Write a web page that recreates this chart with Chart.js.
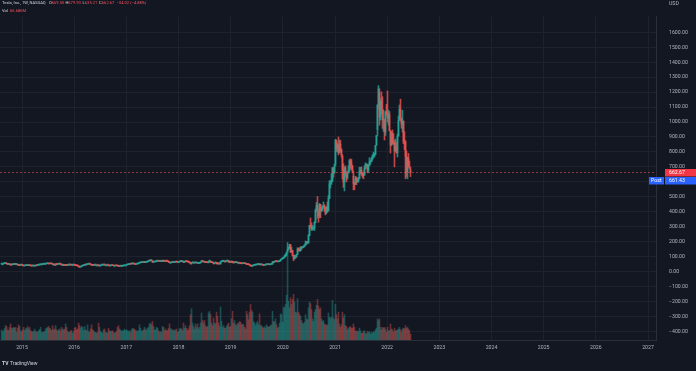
<!DOCTYPE html>
<html lang="en">
<head>
<meta charset="UTF-8" />
<title>Tesla, Inc. 1W NASDAQ</title>
<style>
  html, body { margin: 0; padding: 0; background: #131722; }
  #wrap { position: relative; width: 696px; height: 371px; }
</style>
<script src="https://cdn.jsdelivr.net/npm/chart.js@4"></script>
</head>
<body>
<div id="wrap"><canvas id="chart" width="696" height="371"></canvas></div>
<script>
// weekly bars, first week Mon 11 Aug 2014, last week Mon 13 Jun 2022 (prices in USD, 2020-split adjusted)
const lastWeek = Date.UTC(2022, 5, 13);
const firstOpen = 51.0;

const closes = [
  // 2014
  51.8, 51.8, 53.8, 55.4, 55.8, 51.8, 49.2, 51.0, 47.2, 45.4, 47.0, 48.4, 48.2, 51.6, 48.4, 48.8, 44.6, 41.6, 43.8, 45.4, 43.8,
  // 2015
  41.2, 38.4, 40.2, 40.6, 43.4, 40.6, 43.4, 40.6, 38.6, 38.2, 39.0, 38.0, 42.0, 42.0, 41.4, 43.6, 45.2, 47.2, 49.6, 49.6,
  50.0, 49.8, 50.0, 52.4, 53.4, 56.0, 51.8, 54.8, 53.0, 53.2, 48.4, 48.4, 46.0, 49.6, 48.2, 50.0, 52.4, 51.2, 49.4, 44.0,
  45.4, 42.2, 41.2, 46.4, 41.6, 44.0, 46.2, 46.0, 43.6, 46.0, 46.0, 48.0,
  // 2016
  42.2, 40.8, 40.4, 38.2, 32.4, 30.2, 33.2, 38.0, 40.2, 41.0, 46.4, 45.4, 47.4, 50.0, 50.8, 50.6, 48.0, 42.2, 41.4, 44.0,
  44.8, 43.6, 43.6, 43.0, 38.6, 43.2, 43.2, 44.0, 44.4, 46.8, 45.0, 45.0, 45.0, 44.0, 39.4, 38.8, 41.0, 42.6, 40.8, 39.2,
  39.2, 40.0, 39.6, 38.0, 36.0, 37.0, 39.2, 36.2, 38.4, 40.4, 42.8, 42.8,
  // 2017
  45.8, 47.4, 48.8, 50.4, 50.2, 53.8, 54.6, 51.4, 50.2, 48.6, 52.2, 52.6, 55.6, 60.4, 60.8, 61.0, 62.8, 61.6, 64.8, 62.0,
  65.0, 67.8, 71.4, 74.2, 76.6, 72.2, 62.6, 65.4, 65.6, 67.0, 71.2, 71.4, 69.4, 69.6, 71.0, 68.6, 75.8, 70.2, 68.2, 71.2,
  71.0, 69.0, 64.0, 60.4, 60.4, 63.0, 63.2, 61.2, 63.0, 68.8, 65.0, 62.2,
  // 2018
  63.4, 67.2, 70.2, 68.4, 68.6, 62.0, 67.0, 70.0, 67.0, 65.4, 64.2, 60.2, 53.2, 59.8, 60.0, 58.0, 58.8, 59.0, 60.2, 55.2,
  55.6, 58.4, 63.6, 71.6, 66.6, 68.4, 61.6, 63.6, 62.6, 59.4, 68.2, 70.4, 61.0, 64.4, 60.2, 52.6, 59.0, 59.8, 52.8, 52.2,
  51.8, 52.0, 66.0, 69.2, 70.0, 70.8, 65.0, 70.0, 71.6, 73.2, 63.8, 66.6, 63.6,
  // 2019
  69.4, 60.4, 60.2, 62.4, 61.2, 61.4, 58.8, 58.8, 56.8, 55.0, 52.8, 55.8, 54.8, 53.4, 54.6, 47.0, 51.2, 47.8, 42.2, 38.0,
  37.0, 41.0, 42.8, 44.2, 44.6, 46.8, 49.0, 51.6, 45.6, 46.8, 47.0, 44.0, 42.2, 45.0, 45.8, 49.0, 48.0, 48.4, 46.2, 49.4,
  51.2, 65.6, 62.8, 67.4, 70.4, 66.6, 65.8, 67.2, 71.6, 81.0, 86.0, 88.6,
  // 2020
  95.6, 102.0, 113.0, 130.0, 149.6, 160.0, 180.2, 133.6, 140.8, 109.2, 85.4, 102.8, 96.0, 114.6, 150.6, 145.2, 140.2, 163.8, 159.8, 163.2,
  167.0, 177.0, 187.0, 200.0, 191.8, 241.6, 308.8, 300.0, 283.4, 286.2, 290.5, 330.0, 409.8, 442.7, 418.3, 372.7, 449.4, 407.3, 415.1, 434.0,
  439.7, 420.6, 388.0, 430.0, 408.1, 489.6, 585.8, 599.0, 610.0, 695.0, 661.8, 705.7,
  // 2021
  880.0, 826.2, 846.6, 793.5, 852.2, 816.1, 781.3, 675.5, 597.9, 693.7, 654.9, 618.7, 661.8, 677.0, 739.8, 729.4, 709.4, 672.4, 589.7, 580.9,
  625.2, 599.1, 609.9, 623.3, 671.9, 678.9, 656.9, 644.2, 643.4, 687.2, 699.1, 717.2, 680.3, 711.9, 733.6, 736.3, 759.5, 774.4, 775.2, 785.5,
  843.0, 910.0, 1114.0, 1222.1, 1033.4, 1137.1, 1081.9, 1014.9, 1017.0, 932.6, 1067.0, 1056.8,
  // 2022
  1027.0, 1049.6, 943.9, 846.4, 923.3, 860.0, 857.0, 809.9, 838.3, 795.4, 905.4, 1010.6, 1084.6, 1025.5, 985.0, 1005.1, 870.8, 865.7, 769.6, 663.9,
  759.6, 703.6, 696.7, 662.67
];

const highs = [
  // 2014
  53.0, 52.6, 54.2, 56.2, 58.2, 56.0, 52.0, 52.6, 52.0, 47.8, 47.4, 48.8, 49.4, 52.2, 52.2, 49.8, 49.2, 44.6, 44.6, 46.8, 46.6,
  // 2015
  43.6, 42.0, 41.2, 41.4, 44.0, 43.8, 43.8, 44.0, 40.8, 39.4, 39.8, 40.2, 42.4, 43.2, 42.4, 44.0, 46.0, 47.8, 50.2, 50.4,
  51.0, 50.8, 51.0, 52.8, 54.4, 56.6, 56.4, 55.4, 55.6, 53.8, 53.8, 49.6, 49.4, 50.6, 50.8, 50.4, 52.8, 53.8, 51.0, 50.0,
  46.4, 46.0, 43.2, 46.8, 46.8, 44.4, 46.4, 47.0, 46.4, 46.6, 47.2, 48.6,
  // 2016
  48.0, 42.8, 42.4, 40.2, 38.6, 33.4, 33.6, 38.6, 41.2, 42.2, 46.8, 47.2, 49.4, 52.2, 51.6, 51.4, 50.8, 48.6, 43.2, 44.6,
  45.6, 45.0, 44.6, 44.2, 43.4, 43.6, 44.4, 44.6, 45.0, 47.0, 47.2, 45.6, 45.8, 45.4, 44.0, 40.0, 41.6, 42.8, 43.2, 41.0,
  40.8, 40.6, 41.2, 40.2, 39.0, 37.6, 39.8, 39.6, 39.0, 40.8, 43.0, 43.2,
  // 2017
  46.0, 47.8, 49.4, 51.4, 51.2, 54.0, 56.0, 56.2, 51.2, 50.0, 52.6, 53.4, 55.8, 60.8, 62.0, 61.6, 63.4, 65.0, 65.8, 65.2,
  65.4, 68.2, 71.8, 76.4, 77.4, 77.0, 72.8, 66.4, 66.4, 69.4, 71.8, 73.0, 71.4, 70.4, 71.6, 71.0, 76.4, 76.8, 70.8, 72.2,
  72.6, 72.2, 70.0, 64.8, 62.4, 63.8, 64.8, 63.8, 63.6, 69.4, 69.4, 66.2,
  // 2018
  64.6, 67.6, 70.8, 70.6, 70.0, 69.6, 67.4, 72.2, 70.8, 67.2, 67.2, 64.4, 60.8, 60.4, 61.6, 60.6, 59.8, 62.6, 61.6, 60.8,
  57.6, 59.6, 64.4, 74.2, 73.2, 69.2, 69.0, 64.6, 64.4, 62.6, 70.4, 77.2, 71.6, 65.6, 64.8, 59.2, 59.2, 60.8, 62.4, 61.4,
  53.6, 53.2, 67.4, 70.8, 70.6, 70.8, 70.8, 70.4, 73.6, 75.4, 74.2, 66.6, 67.4,
  // 2019
  70.4, 69.6, 61.4, 63.8, 65.6, 63.0, 61.2, 61.0, 58.8, 58.0, 55.6, 56.2, 58.0, 55.4, 55.0, 54.6, 52.4, 51.0, 48.2, 42.4,
  38.6, 42.0, 43.6, 45.4, 46.2, 49.4, 50.4, 53.2, 52.0, 48.6, 48.8, 47.0, 45.0, 45.4, 46.8, 49.8, 49.0, 49.8, 48.8, 50.0,
  52.0, 66.0, 69.0, 68.6, 71.4, 72.2, 67.4, 68.8, 73.6, 81.6, 87.2, 90.8,
  // 2020
  98.0, 110.0, 118.0, 130.6, 193.8, 163.6, 183.0, 180.4, 161.4, 141.4, 110.0, 110.6, 109.0, 115.4, 160.0, 157.0, 159.8, 164.8, 165.8, 164.2,
  172.0, 180.8, 205.0, 202.6, 200.2, 247.8, 310.0, 358.8, 325.0, 309.0, 300.0, 333.4, 419.0, 463.7, 502.5, 399.0, 456.0, 449.5, 428.8, 442.0,
  465.9, 447.0, 430.0, 436.8, 465.0, 508.6, 607.8, 607.8, 654.3, 695.0, 669.9, 718.7,
  // 2021
  884.5, 868.0, 856.0, 900.4, 880.5, 877.0, 821.0, 768.5, 721.1, 699.6, 707.0, 668.0, 668.0, 708.0, 749.0, 753.8, 749.9, 706.0, 639.0, 599.5,
  637.7, 632.9, 623.1, 630.5, 698.0, 697.0, 700.0, 662.0, 665.0, 709.0, 726.9, 722.8, 712.0, 716.0, 761.6, 742.0, 761.0, 780.8, 799.0, 791.4,
  843.2, 910.0, 1115.2, 1243.5, 1197.0, 1155.0, 1202.0, 1168.8, 1081.0, 1005.0, 1072.9, 1119.0,
  // 2022
  1208.0, 1080.0, 1070.0, 937.0, 937.0, 947.0, 923.0, 876.9, 886.5, 866.1, 919.9, 1040.7, 1114.0, 1152.9, 1026.2, 1078.0, 1008.0, 936.0, 876.0, 807.5,
  765.0, 790.0, 739.0, 679.9
];

const lows = [
  // 2014
  49.8, 50.2, 51.4, 53.6, 54.8, 51.4, 48.4, 48.6, 47.0, 41.4, 43.6, 45.4, 46.0, 48.2, 48.0, 47.6, 44.0, 40.6, 39.6, 43.6, 43.0,
  // 2015
  39.6, 37.6, 38.6, 39.4, 40.4, 40.2, 40.2, 40.4, 38.2, 37.2, 37.6, 37.4, 37.6, 41.0, 40.6, 40.6, 43.2, 44.2, 46.4, 48.6,
  49.0, 49.0, 49.0, 49.4, 51.4, 53.0, 51.2, 51.8, 52.4, 51.8, 46.6, 46.6, 43.4, 39.8, 46.4, 47.8, 49.6, 50.6, 48.6, 43.0,
  42.0, 41.2, 40.6, 40.6, 40.8, 40.8, 43.4, 45.2, 42.8, 43.4, 45.4, 45.6,
  // 2016
  41.2, 39.4, 39.0, 37.2, 31.2, 28.6, 30.8, 32.8, 38.4, 40.0, 40.6, 44.0, 44.8, 46.4, 49.2, 49.4, 47.0, 41.2, 40.6, 41.0,
  43.4, 43.2, 42.2, 42.4, 37.8, 37.8, 42.0, 42.8, 43.2, 44.0, 43.8, 44.2, 44.6, 43.6, 38.6, 37.6, 37.8, 40.6, 40.4, 39.0,
  38.8, 39.4, 38.8, 37.8, 35.0, 35.2, 37.0, 35.8, 36.0, 38.4, 40.4, 41.8,
  // 2017
  42.8, 44.4, 47.0, 49.2, 49.4, 50.4, 53.2, 51.0, 49.0, 48.4, 48.6, 50.6, 52.0, 56.6, 59.2, 59.4, 60.2, 60.6, 61.0, 60.8,
  62.2, 64.2, 66.8, 70.2, 73.0, 71.0, 61.8, 62.2, 64.0, 65.4, 65.4, 70.4, 68.2, 68.4, 68.0, 67.0, 68.6, 69.2, 67.0, 67.6,
  70.0, 68.6, 63.0, 59.2, 59.4, 59.6, 61.8, 60.4, 60.0, 62.8, 64.0, 61.6,
  // 2018
  60.6, 62.8, 67.0, 66.8, 66.2, 59.8, 62.2, 67.0, 66.0, 64.0, 62.6, 58.6, 50.4, 50.4, 58.6, 57.2, 56.0, 58.2, 58.6, 55.0,
  55.2, 55.4, 58.2, 63.2, 66.0, 65.0, 61.0, 61.2, 61.6, 59.0, 58.6, 66.2, 60.0, 61.4, 59.0, 50.8, 52.6, 57.6, 51.0, 50.6,
  50.0, 50.4, 50.2, 64.6, 66.6, 67.4, 65.0, 63.8, 69.0, 72.0, 63.0, 59.4, 61.2,
  // 2019
  62.6, 58.4, 57.6, 57.6, 60.4, 60.0, 57.6, 58.2, 55.8, 54.0, 52.4, 52.6, 53.6, 53.0, 53.2, 46.2, 47.4, 46.4, 42.0, 37.6,
  35.6, 35.4, 40.8, 42.4, 43.4, 45.2, 46.6, 49.2, 44.6, 45.2, 45.4, 43.4, 42.0, 41.4, 44.6, 45.6, 47.2, 47.0, 45.6, 45.4,
  49.6, 50.6, 62.0, 62.8, 67.0, 66.4, 65.4, 65.0, 67.0, 71.8, 80.6, 85.4,
  // 2020
  87.0, 94.6, 101.6, 107.2, 134.6, 149.6, 154.4, 127.0, 129.6, 105.0, 72.2, 84.4, 89.0, 100.4, 113.6, 138.2, 136.0, 136.6, 148.0, 157.0,
  160.6, 168.4, 176.4, 181.6, 188.8, 190.4, 240.0, 294.0, 276.6, 276.0, 284.0, 274.6, 325.0, 398.8, 356.0, 329.9, 360.0, 360.0, 400.0, 408.7,
  428.6, 401.7, 379.1, 401.5, 396.0, 405.0, 488.0, 560.0, 583.0, 599.7, 630.5, 657.5,
  // 2021
  717.2, 803.6, 801.0, 780.1, 795.0, 800.0, 766.0, 619.0, 563.0, 539.5, 636.4, 600.1, 630.0, 656.9, 671.0, 691.0, 681.0, 660.2, 547.0, 547.0,
  586.0, 581.0, 599.1, 598.0, 620.5, 655.0, 643.2, 629.5, 620.5, 644.9, 687.9, 704.5, 660.0, 663.0, 707.5, 718.0, 734.0, 745.0, 759.0, 766.0,
  781.0, 848.0, 950.0, 1087.0, 978.6, 1013.0, 1054.0, 957.3, 939.0, 880.0, 910.0, 1045.0,
  // 2022
  1000.0, 980.0, 940.0, 792.0, 843.0, 852.0, 851.0, 700.0, 802.0, 792.0, 766.0, 907.0, 1017.0, 1006.0, 959.0, 933.0, 855.0, 815.0, 620.6, 633.0,
  620.5, 699.0, 685.0, 635.21
];

// weekly volume, millions of shares
const volumes = [
  // 2014
  120, 95, 110, 135, 170, 160, 120, 110, 150, 190, 140, 135, 150, 140, 150, 90, 140, 180, 160, 110, 95,
  // 2015
  120, 150, 110, 130, 140, 160, 130, 150, 110, 100, 95, 100, 130, 105, 90, 95, 110, 120, 150, 90,
  90, 100, 95, 130, 140, 150, 160, 140, 130, 110, 170, 120, 130, 170, 120, 100, 120, 130, 100, 150,
  130, 120, 130, 190, 150, 100, 90, 90, 110, 110, 80, 100,
  // 2016
  140, 150, 120, 130, 200, 170, 140, 160, 150, 110, 160, 120, 110, 180, 100, 90, 130, 180, 120, 110,
  90, 90, 80, 90, 200, 150, 100, 90, 80, 120, 130, 90, 90, 80, 140, 110, 100, 100, 110, 90,
  80, 90, 100, 150, 170, 130, 120, 100, 110, 110, 130, 110,
  // 2017
  120, 110, 100, 110, 90, 120, 140, 130, 130, 110, 110, 100, 110, 180, 140, 100, 110, 120, 150, 130,
  110, 140, 150, 190, 200, 180, 220, 160, 120, 120, 150, 140, 110, 90, 100, 90, 160, 150, 110, 130,
  110, 110, 140, 190, 130, 130, 110, 120, 110, 120, 130, 90,
  // 2018
  100, 130, 140, 130, 110, 200, 140, 170, 140, 110, 130, 170, 300, 370, 200, 160, 130, 190, 150, 190,
  130, 150, 200, 320, 230, 200, 230, 170, 150, 160, 320, 340, 300, 200, 170, 260, 200, 190, 330, 280,
  200, 160, 390, 220, 150, 170, 140, 140, 160, 180, 200, 150, 160,
  // 2019
  250, 340, 200, 230, 180, 170, 200, 190, 220, 210, 180, 190, 180, 150, 130, 340, 300, 240, 330, 420,
  350, 330, 220, 200, 170, 200, 220, 180, 310, 170, 170, 150, 140, 160, 140, 180, 160, 150, 160, 170,
  180, 340, 220, 210, 250, 180, 140, 150, 200, 310, 300, 210,
  // 2020
  390, 380, 420, 530, 1070, 460, 380, 500, 420, 480, 540, 450, 330, 320, 490, 330, 300, 280, 230, 200,
  190, 210, 300, 250, 240, 380, 450, 430, 360, 250, 220, 330, 360, 410, 480, 400, 360, 380, 250, 220,
  230, 190, 180, 170, 180, 320, 270, 250, 270, 470, 260, 240,
  // 2021
  420, 300, 250, 330, 190, 150, 180, 330, 260, 300, 170, 160, 120, 140, 150, 160, 140, 140, 190, 150,
  100, 110, 100, 100, 140, 110, 80, 80, 100, 110, 80, 70, 100, 90, 100, 70, 90, 80, 100, 90,
  120, 140, 250, 230, 250, 150, 120, 150, 140, 150, 130, 90,
  // 2022
  150, 110, 110, 190, 130, 120, 90, 140, 110, 110, 120, 130, 150, 120, 90, 130, 140, 130, 170, 140,
  150, 130, 110, 66.686
];

const yearTicks = [2015, 2016, 2017, 2018, 2019, 2020, 2021, 2022, 2023, 2024, 2025, 2026, 2027];
const priceTicks = [-400, -300, -200, -100, 0, 100, 200, 300, 400, 500, 600, 700, 800, 900, 1000, 1100, 1200, 1300, 1400, 1500, 1600];

const lastPrice = 662.67;
const postPrice = 661.43;

const upCol = 'rgba(38,166,154,0.8)', downCol = 'rgba(239,83,80,0.8)';
const upVol = 'rgba(38,166,154,0.4)', downVol = 'rgba(239,83,80,0.4)';
const textCol = '#b2b5be';
const FONT = 'Roboto, "Liberation Sans", sans-serif';

// week start -> fractional year
function toYear(ms) {
  const y = new Date(ms).getUTCFullYear();
  const a = Date.UTC(y, 0, 1), b = Date.UTC(y + 1, 0, 1);
  return y + (ms - a) / (b - a);
}
const n = closes.length;
const xs = closes.map((c, i) => toYear(lastWeek - (n - 1 - i) * 7 * 864e5));
const opens = closes.map((c, i) => i ? closes[i - 1] : firstOpen);
const isUp = closes.map((c, i) => c >= opens[i]);

const tvPlugin = {
  id: 'tv',
  beforeDraw(chart) {
    const c = chart.ctx;
    c.save();
    c.fillStyle = '#131722';
    c.fillRect(0, 0, chart.width, chart.height);
    c.restore();
  },
  afterDatasetsDraw(chart) {
    const c = chart.ctx, a = chart.chartArea, y = chart.scales.y;
    const py = Math.round(y.getPixelForValue(lastPrice)) + 0.5;
    c.save();
    c.strokeStyle = 'rgba(239,83,80,0.55)';
    c.lineWidth = 1;
    c.setLineDash([2, 2]);
    c.beginPath(); c.moveTo(a.left, py); c.lineTo(a.right, py); c.stroke();
    c.restore();
  },
  afterDraw(chart) {
    const c = chart.ctx, a = chart.chartArea, y = chart.scales.y;
    c.save();
    // bottom strip + logo
    c.fillStyle = '#131722';
    c.fillRect(0, 356, chart.width, chart.height - 356);
    c.fillStyle = '#d1d4dc';
    c.font = 'bold 5px ' + FONT;
    c.textBaseline = 'middle';
    c.fillText('TV', 2, 363.5);
    c.font = '5px ' + FONT;
    c.fillText('TradingView', 10, 363.5);

    // price labels
    c.font = '5.2px ' + FONT;
    c.textBaseline = 'middle';
    const py = y.getPixelForValue(lastPrice);
    c.fillStyle = '#f23645';
    c.fillRect(a.right + 9, py - 3.5, 31, 7.5);
    c.fillStyle = '#ffffff';
    c.fillText(lastPrice.toFixed(2), a.right + 13, py + 0.3);
    const qy = py + 8;
    c.fillStyle = '#2962ff';
    c.fillRect(a.right - 7, qy - 3.5, 15, 7.5);
    c.fillRect(a.right + 9, qy - 3.5, 31, 7.5);
    c.fillStyle = '#ffffff';
    c.fillText('Post', a.right - 5, qy + 0.3);
    c.fillText(postPrice.toFixed(2), a.right + 13, qy + 0.3);

    c.fillStyle = textCol;
    c.fillText('USD', a.right + 13, 3.5);

    // legend
    c.font = '4.1px ' + FONT;
    const red = '#f7525f', grey = '#d1d4dc';
    const parts = [
      ['Tesla, Inc., 1W, NASDAQ', grey, 2],
      ['O', grey, 49], ['669.50', red, 51.7],
      ['H', grey, 65.5], ['679.90', red, 68.3],
      ['L', grey, 82.5], ['635.21', red, 84.8],
      ['C', grey, 99], ['662.67', red, 101.8],
      ['\u221234.02 (\u22124.88%)', red, 116.5]
    ];
    parts.forEach(p => { c.fillStyle = p[1]; c.fillText(p[0], p[2], 3); });
    c.fillStyle = grey; c.fillText('Vol', 2, 10.5);
    c.fillStyle = red; c.fillText('66.686M', 10, 10.5);
    c.restore();
  }
};

new Chart(document.getElementById('chart'), {
  type: 'bar',
  data: {
    datasets: [
      {
        label: 'Vol',
        yAxisID: 'vol',
        data: xs.map((x, i) => ({ x: x, y: volumes[i] })),
        backgroundColor: isUp.map(u => u ? upVol : downVol),
        barThickness: 1,
        grouped: false,
        order: 3
      },
      {
        label: 'wick',
        yAxisID: 'y',
        data: xs.map((x, i) => ({ x: x, y: [lows[i], highs[i]] })),
        backgroundColor: isUp.map(u => u ? upCol : downCol),
        barThickness: 1,
        grouped: false,
        order: 2
      },
      {
        label: 'body',
        yAxisID: 'y',
        data: xs.map((x, i) => ({ x: x, y: [opens[i], closes[i]] })),
        backgroundColor: isUp.map(u => u ? upCol : downCol),
        barThickness: 1,
        minBarLength: 1,
        grouped: false,
        order: 1
      }
    ]
  },
  options: {
    responsive: false,
    animation: false,
    layout: { padding: { left: 0, top: 0, right: 0, bottom: 16 } },
    plugins: { legend: { display: false }, tooltip: { enabled: false } },
    scales: {
      x: {
        type: 'linear',
        min: 2014.578,
        max: 2027.153,
        offset: false,
        afterBuildTicks: s => { s.ticks = yearTicks.map(v => ({ value: v })); },
        afterFit: s => { s.height = 15; },
        grid: { color: '#1e222d', drawTicks: false, offset: false },
        border: { color: '#2a2e39' },
        ticks: {
          color: textCol, font: { family: FONT, size: 5.2 }, padding: 5,
          maxRotation: 0, autoSkip: false, callback: v => String(v)
        }
      },
      y: {
        position: 'right',
        min: -457,
        max: 1708,
        afterBuildTicks: s => { s.ticks = priceTicks.map(v => ({ value: v })); },
        afterFit: s => { s.width = 40; },
        grid: { color: '#1e222d', drawTicks: false },
        border: { color: '#2a2e39' },
        ticks: {
          color: textCol, font: { family: FONT, size: 5.2 }, padding: 13,
          autoSkip: false, callback: v => v.toFixed(2).replace('-', '\u2212')
        }
      },
      vol: { display: false, min: 0, max: 3830 }
    }
  },
  plugins: [tvPlugin]
});
</script>
</body>
</html>
